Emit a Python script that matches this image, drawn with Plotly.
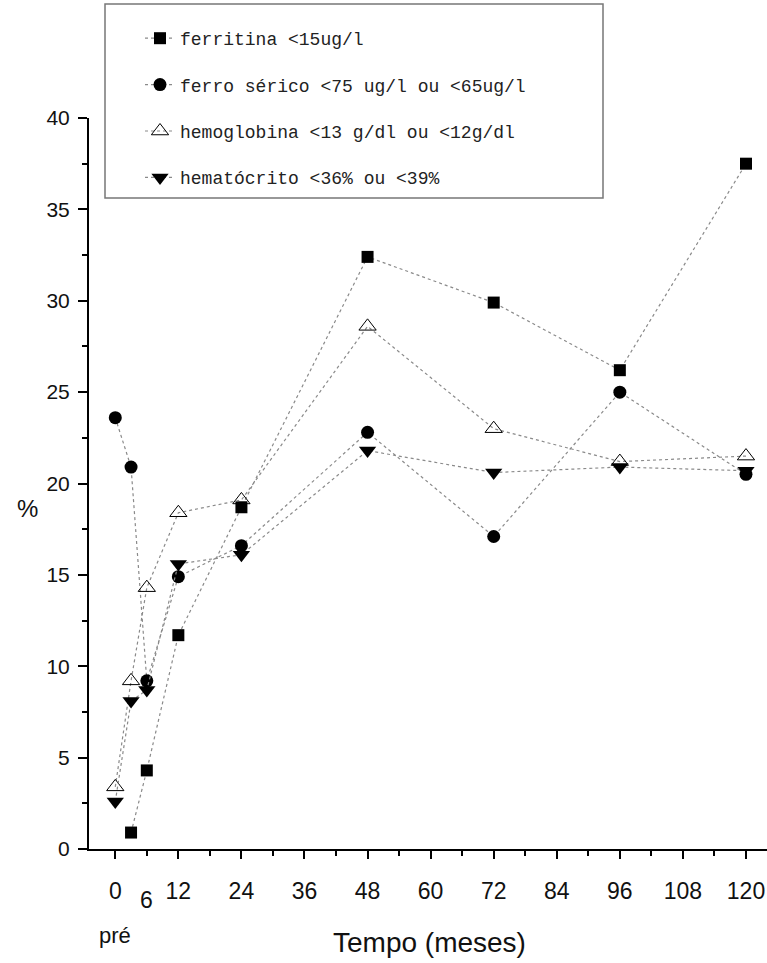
import plotly.graph_objects as go

# ---- data ----
meses = [0, 3, 6, 12, 24, 48, 72, 96, 120]
ferritina_x = [3, 6, 12, 24, 48, 72, 96, 120]
ferritina = [0.9, 4.3, 11.7, 18.7, 32.4, 29.9, 26.2, 37.5]
ferro_serico = [23.6, 20.9, 9.2, 14.9, 16.6, 22.8, 17.1, 25.0, 20.5]
hemoglobina = [3.4, 9.2, 14.3, 18.4, 19.1, 28.6, 23.0, 21.2, 21.5]
hematocrito = [2.6, 8.1, 8.7, 15.6, 16.1, 21.8, 20.6, 20.9, 20.7]

x_ticks = [0, 12, 24, 36, 48, 60, 72, 84, 96, 108, 120]
x_minor = [6, 18, 30, 42, 54, 66, 78, 90, 102, 114]
y_ticks = [0, 5, 10, 15, 20, 25, 30, 35, 40]
y_minor = [2.5, 7.5, 12.5, 17.5, 22.5, 27.5, 32.5, 37.5]

names = ["ferritina <15ug/l", "ferro sérico <75 ug/l ou <65ug/l",
         "hemoglobina <13 g/dl ou <12g/dl", "hematócrito <36% ou <39%"]

W, H = 767, 963
L, R, T, B = 89, 0, 118, 114
PW, PH = W - L - R, H - T - B

def px(xp):
    return (xp - L) / PW

def py(yp):
    return (H - B - yp) / PH

line_style = dict(color="#8a8a8a", width=1.2, dash="dot")
sans = "Liberation Sans, Arial"

fig = go.Figure()
fig.add_trace(go.Scatter(x=ferritina_x, y=ferritina, name=names[0], mode="lines+markers",
                         line=line_style, legendgroup="a",
                         marker=dict(symbol="square", size=12, color="black")))
fig.add_trace(go.Scatter(x=meses, y=ferro_serico, name=names[1], mode="lines+markers",
                         line=line_style, legendgroup="b",
                         marker=dict(symbol="circle", size=13, color="black")))
fig.add_trace(go.Scatter(x=meses, y=hemoglobina, name=names[2], mode="lines+markers",
                         line=line_style, legendgroup="c",
                         marker=dict(symbol="triangle-up-open", size=15, color="black",
                                     line=dict(width=1, color="black"))))
fig.add_trace(go.Scatter(x=meses, y=hematocrito, name=names[3], mode="lines+markers",
                         line=line_style, legendgroup="d",
                         marker=dict(symbol="triangle-down", size=15, color="black")))

fig.update_layout(
    width=W, height=H,
    margin=dict(l=L, r=R, t=T, b=B),
    paper_bgcolor="white", plot_bgcolor="white",
    font=dict(family=sans, color="black"),
    legend=dict(x=px(140), y=py(20), xanchor="left", yanchor="top",
                font=dict(family="Liberation Mono, Courier New, monospace", size=18, color="#222"),
                bgcolor="rgba(0,0,0,0)", borderwidth=0,
                traceorder="grouped", tracegroupgap=20),
    xaxis=dict(range=[-5, 124], showgrid=False, zeroline=False,
               showline=True, linecolor="black", linewidth=2,
               tickmode="array", tickvals=x_ticks, ticktext=[str(v) for v in x_ticks],
               ticks="outside", ticklen=8, tickwidth=1.5, tickcolor="black",
               ticklabelstandoff=12,
               tickfont=dict(family=sans, size=23, color="#111"),
               minor=dict(tickvals=x_minor, ticks="outside", ticklen=5, tickwidth=1.5,
                          tickcolor="black")),
    yaxis=dict(range=[0, 40], showgrid=False, zeroline=False,
               showline=True, linecolor="black", linewidth=2,
               tickmode="array", tickvals=y_ticks, ticktext=[str(v) for v in y_ticks],
               ticks="outside", ticklen=9, tickwidth=1.5, tickcolor="black",
               ticklabelstandoff=4,
               tickfont=dict(family=sans, size=21, color="#111"),
               minor=dict(tickvals=y_minor, ticks="outside", ticklen=5, tickwidth=1.5,
                          tickcolor="black")),
    showlegend=True,
)

# legend frame
fig.add_shape(type="rect", xref="paper", yref="paper",
              x0=px(105), x1=px(603), y0=py(198), y1=py(4),
              line=dict(color="#777", width=1.5))

# extra labels
def label(text, x, y, size, xref="paper"):
    fig.add_annotation(x=x, y=py(y), xref=xref, yref="paper", text=text, showarrow=False,
                       xanchor="center", yanchor="middle",
                       font=dict(family=sans, size=size, color="#111"))

label("6", 6, 900, 23, xref="x")
label("pré", 0, 935, 22, xref="x")
label("Tempo (meses)", px(429), 942, 28)
label("%", px(27), 508, 24)

fig.write_html("out.html", config={"displayModeBar": False},
               post_script="document.body.style.margin='0';document.body.style.padding='0';")
